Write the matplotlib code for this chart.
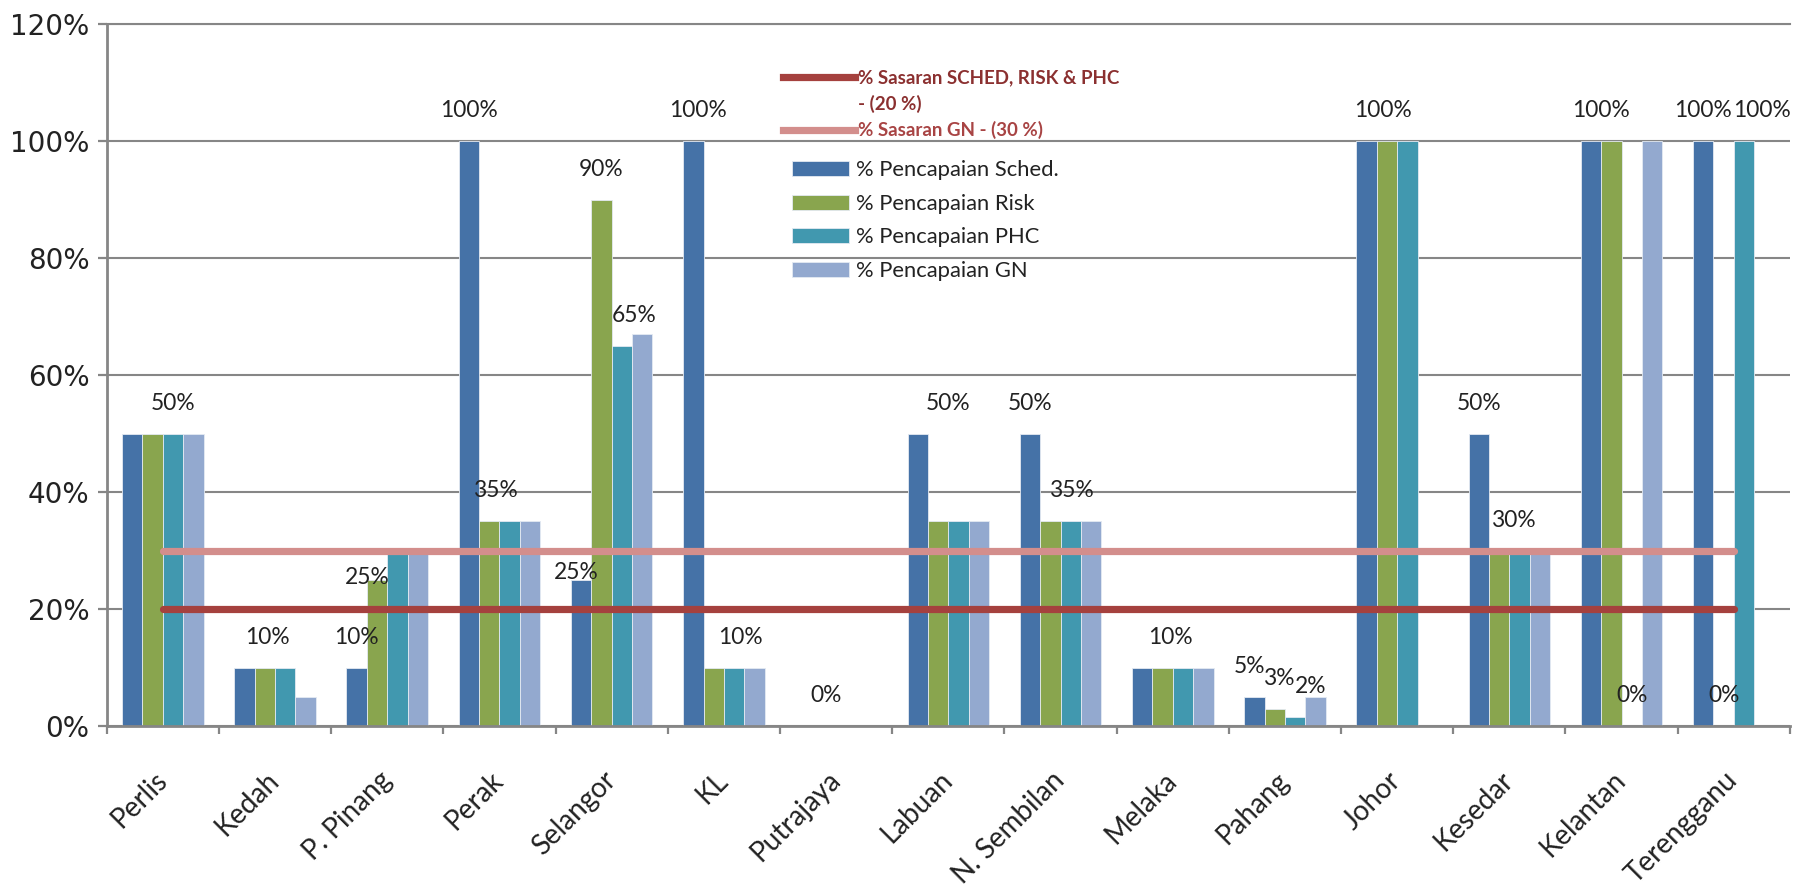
import matplotlib
matplotlib.use("Agg")
import matplotlib.pyplot as plt
import numpy as np
from matplotlib.lines import Line2D
from matplotlib.patches import Patch

# ---------------- data ----------------
categories = ["Perlis", "Kedah", "P. Pinang", "Perak", "Selangor", "KL", "Putrajaya",
              "Labuan", "N. Sembilan", "Melaka", "Pahang", "Johor", "Kesedar",
              "Kelantan", "Terengganu"]
sched = [0.50, 0.10, 0.10, 1.00, 0.25, 1.00, 0.00, 0.50, 0.50, 0.10, 0.05, 1.00, 0.50, 1.00, 1.00]
risk  = [0.50, 0.10, 0.25, 0.35, 0.90, 0.10, 0.00, 0.35, 0.35, 0.10, 0.03, 1.00, 0.30, 1.00, 0.00]
phc   = [0.50, 0.10, 0.30, 0.35, 0.65, 0.10, 0.00, 0.35, 0.35, 0.10, 0.015, 1.00, 0.30, 0.00, 1.00]
gn    = [0.50, 0.05, 0.30, 0.35, 0.67, 0.10, 0.00, 0.35, 0.35, 0.10, 0.05, 0.00, 0.30, 1.00, 0.00]
target_sched = [0.20, 0.20, 0.20, 0.20, 0.20, 0.20, 0.20, 0.20, 0.20, 0.20, 0.20, 0.20, 0.20, 0.20, 0.20]
target_gn    = [0.30, 0.30, 0.30, 0.30, 0.30, 0.30, 0.30, 0.30, 0.30, 0.30, 0.30, 0.30, 0.30, 0.30, 0.30]

series_names = ["% Pencapaian Sched.", "% Pencapaian Risk", "% Pencapaian PHC", "% Pencapaian GN"]
target_names = ["% Sasaran SCHED, RISK & PHC", "- (20 %)", "% Sasaran GN - (30 %)"]
y_ticks = [0.0, 0.2, 0.4, 0.6, 0.8, 1.0, 1.2]
y_tick_labels = ["0%", "20%", "40%", "60%", "80%", "100%", "120%"]

# data labels shown: (category index, series index)
labelled = [(0, 2), (1, 1), (2, 0), (2, 1), (3, 0), (3, 1), (4, 0), (4, 1), (4, 2),
            (5, 0), (5, 2), (6, 1), (7, 0), (8, 0), (8, 2), (9, 1), (10, 0), (10, 1),
            (10, 2), (11, 1), (12, 0), (12, 2), (13, 0), (13, 2), (14, 0), (14, 1), (14, 2)]

# ---------------- layout / style ----------------
label_dx = {(1, 1): 0.15, (2, 1): -0.5, (3, 1): 0.37, (4, 0): -0.25, (4, 2): 0.6,
            (5, 0): 0.25, (5, 2): 0.33, (7, 0): 1.5, (8, 2): 0.1, (9, 1): 0.37,
            (10, 0): -0.25, (10, 1): 0.26, (10, 2): 0.74, (11, 1): -0.2,
            (12, 2): -0.28, (13, 0): 0.5, (14, 2): 0.87}
label_dy = {(2, 1): 0.004, (4, 0): 0.013}
default_dy = 0.052

bar_colors = ["#4572A7", "#89A54E", "#4198AF", "#93A9CF"]
red = "#A5413E"
pink = "#D38E8C"
grid_gray = "#868686"
text_dark = "#222222"

fig = plt.figure(figsize=(18, 8.92), dpi=100)
ax = fig.add_axes([0.0593, 0.186, 0.9351, 0.787])

values = [sched, risk, phc, gn]
n = len(categories)
x = np.arange(n)
w = 1 / 5.5
for s, (vals, col, name) in enumerate(zip(values, bar_colors, series_names)):
    ax.bar(x + (s - 1.5) * w, vals, width=w, color=col, edgecolor="#E4EAF2",
           linewidth=0.6, zorder=2, label=name)

ax.plot(x, target_sched, color=red, lw=5.2, solid_capstyle="round", zorder=3)
ax.plot(x, target_gn, color=pink, lw=5.2, solid_capstyle="round", zorder=3)

for (c, s) in labelled:
    v = values[s][c]
    xx = c + (s - 1.5) * w + label_dx.get((c, s), 0.0) * w
    yy = v + label_dy.get((c, s), default_dy)
    ax.text(xx, yy, f"{round(v * 100)}%", ha="center", va="center",
            fontsize=16.4, family="Lato", color=text_dark, zorder=5)

ax.set_xlim(-0.5, n - 0.5)
ax.set_ylim(0, 1.2)
ax.set_yticks(y_ticks)
ax.set_yticklabels(y_tick_labels, family="DejaVu Sans", fontsize=20, color=text_dark)
ax.set_xticks(x)
ax.set_xticklabels(categories, family="Lato", fontsize=20, color=text_dark,
                   rotation=45, rotation_mode="anchor", ha="right", va="center")
ax.set_xticks(np.arange(-0.5, n, 1), minor=True)
ax.tick_params(axis="x", which="major", length=0, pad=36)
ax.tick_params(axis="x", which="minor", length=6, width=1.6, color=grid_gray, direction="out")
ax.tick_params(axis="y", which="major", length=6.5, width=1.6, color=grid_gray, pad=6)

ax.yaxis.grid(True, color=grid_gray, lw=1.5, zorder=0)
ax.set_axisbelow(True)
ax.spines["right"].set_visible(False)
ax.spines["top"].set_color(grid_gray)
ax.spines["top"].set_linewidth(1.5)
for side in ["left", "bottom"]:
    ax.spines[side].set_color(grid_gray)
    ax.spines[side].set_linewidth(2)

# legend for targets
t_handles = [Line2D([], [], color=red, lw=5.2),
             Line2D([], [], color="none", lw=0),
             Line2D([], [], color=pink, lw=5.2)]
leg1 = ax.legend(t_handles, target_names, loc="upper left", bbox_to_anchor=(0.402, 0.935),
                 frameon=False, borderpad=0, borderaxespad=0, handlelength=3.8,
                 handletextpad=0.17, labelspacing=0.44,
                 prop={"family": "Lato", "weight": "bold", "size": 13.5})
for t, col in zip(leg1.get_texts(), ["#8B3030", "#8B3030", "#A84444"]):
    t.set_color(col)
ax.add_artist(leg1)

b_handles = [Patch(facecolor=c, edgecolor="#E4EAF2", lw=0.6) for c in bar_colors]
leg2 = ax.legend(b_handles, series_names, loc="upper left", bbox_to_anchor=(0.407, 0.806),
                 frameon=False, borderpad=0, borderaxespad=0, handlelength=2.6,
                 handleheight=0.7, handletextpad=0.32, labelspacing=0.62,
                 prop={"family": "Lato", "size": 15.8})
for t in leg2.get_texts():
    t.set_color(text_dark)

fig.savefig("out.png", dpi=100, facecolor="white")
